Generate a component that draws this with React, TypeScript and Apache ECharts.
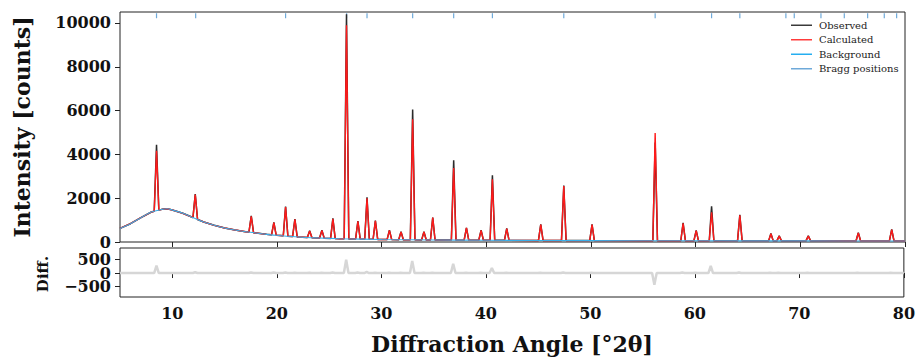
import { useEffect, useRef } from "react";
import * as echarts from "echarts";

// ---------- data ----------
const xTicks = [10, 20, 30, 40, 50, 60, 70, 80];
const yTicks = [0, 2000, 4000, 6000, 8000, 10000];
const diffTicks = [-500, 0, 500];

// background curve knots (°2θ, counts)
const bgTheta = [5, 6, 7, 8, 9, 9.5, 10, 11, 12, 13, 14, 15, 16, 17, 18, 19, 20, 22, 24, 26, 30, 35, 40, 50, 60, 70, 80];
const bgCounts = [620, 835, 1110, 1370, 1490, 1520, 1460, 1310, 1110, 913, 762, 640, 548, 470, 411, 350, 306, 228, 183, 150, 114, 91, 78, 64, 55, 50, 46];

// reflections: position (°2θ), calculated apex and observed apex (counts)
const peakTheta = [8.49, 12.19, 17.54, 19.7, 20.82, 21.71, 23.12, 24.29, 25.34, 26.64, 27.73, 28.6, 29.4, 30.74, 31.85, 32.96, 34.04, 34.88, 36.88, 38.1, 39.5, 40.58, 41.95, 45.2, 47.4, 50.1, 56.13, 58.8, 60.05, 61.52, 64.22, 67.19, 67.98, 70.76, 75.54, 78.73];
const peakCalc = [4160, 2160, 1170, 880, 1600, 1040, 500, 530, 1060, 9900, 940, 2000, 970, 530, 460, 5600, 460, 1110, 3380, 640, 530, 2860, 610, 790, 2560, 790, 4980, 850, 520, 1360, 1220, 380, 270, 270, 410, 570];
const peakObs = [4440, 2190, 1190, 900, 1620, 1050, 510, 540, 1080, 10400, 960, 2040, 980, 540, 470, 6050, 470, 1120, 3730, 650, 540, 3050, 620, 800, 2580, 800, 4540, 870, 530, 1630, 1240, 390, 280, 280, 420, 580];

// Bragg reflection positions (°2θ)
const braggTheta = [8.49, 12.23, 20.82, 26.65, 28.6, 32.96, 36.88, 40.58, 47.4, 56.13, 61.52, 64.22, 68.62, 69.42, 71.97, 74.2, 76.43, 78.02, 79.2];

// ---------- presentation constants ----------
const X_MIN = 5;
const X_MAX = 80;
const Y_MAX = 10500;
const D_MIN = -900;
const D_MAX = 940;
const HW = 0.22; // half width of a drawn reflection
const BRAGG_Y = 10330;
const FONT = "DejaVu Serif";

function bgAt(t: number): number {
  for (let i = 0; i < bgTheta.length - 1; i++) {
    if (t >= bgTheta[i] && t <= bgTheta[i + 1]) {
      const f = (t - bgTheta[i]) / (bgTheta[i + 1] - bgTheta[i]);
      return bgCounts[i] + f * (bgCounts[i + 1] - bgCounts[i]);
    }
  }
  return bgCounts[bgCounts.length - 1];
}

function profile(apex: number[]): [number, number][] {
  const pts: [number, number][] = [];
  bgTheta.forEach((t, i) => {
    if (!peakTheta.some((p) => Math.abs(p - t) <= HW)) pts.push([t, bgCounts[i]]);
  });
  peakTheta.forEach((p, i) => {
    pts.push([p - HW, bgAt(p - HW)], [p, apex[i]], [p + HW, bgAt(p + HW)]);
  });
  pts.sort((a, b) => a[0] - b[0]);
  return pts;
}

function diffProfile(): [number, number][] {
  const pts: [number, number][] = [[X_MIN, 0]];
  peakTheta.forEach((p, i) => {
    pts.push([p - HW, 0], [p, peakObs[i] - peakCalc[i]], [p + HW, 0]);
  });
  pts.push([X_MAX, 0]);
  return pts;
}

export default function App() {
  const ref = useRef<HTMLDivElement>(null);

  useEffect(() => {
    document.body.style.margin = "0";
    if (!ref.current) return;
    const chart = echarts.init(ref.current, undefined, { renderer: "svg" });

    const tickLabel = {
      fontFamily: FONT,
      fontSize: 16,
      fontWeight: "bold" as const,
      color: "#111",
      showMinLabel: true,
      showMaxLabel: true,
      hideOverlap: false,
    };
    const lineCol = "#222";
    const plain = (v: number) => (v < 0 ? "\u2212" + String(-v) : String(v));
    // the diff axis ends carry hidden placeholder ticks so the three real labels all stay visible
    const diffAll = [D_MIN, ...diffTicks, D_MAX];

    chart.setOption({
      animation: false,
      grid: [
        { left: 120, top: 12, width: 785, height: 230, show: true, borderColor: lineCol, borderWidth: 1, backgroundColor: "transparent" },
        { left: 120, top: 248, width: 785, height: 49, show: true, borderColor: lineCol, borderWidth: 1, backgroundColor: "transparent" },
      ],
      xAxis: [
        {
          type: "value", gridIndex: 0, min: X_MIN, max: X_MAX,
          axisLine: { show: false },
          axisTick: { show: true, length: 5, customValues: xTicks, lineStyle: { color: lineCol } },
          axisLabel: { show: false },
          splitLine: { show: false },
        },
        {
          type: "value", gridIndex: 1, min: X_MIN, max: X_MAX,
          axisLine: { show: false },
          axisTick: { show: true, length: 5, customValues: xTicks, lineStyle: { color: lineCol } },
          axisLabel: { ...tickLabel, margin: 8, customValues: xTicks, formatter: plain },
          splitLine: { show: false },
        },
      ],
      yAxis: [
        {
          type: "value", gridIndex: 0, min: 0, max: Y_MAX,
          axisLine: { show: false },
          axisTick: { show: true, length: 5, customValues: yTicks, lineStyle: { color: lineCol } },
          axisLabel: { ...tickLabel, margin: 9, customValues: yTicks, formatter: plain },
          splitLine: { show: false },
        },
        {
          type: "value", gridIndex: 1, min: D_MIN, max: D_MAX,
          axisLine: { show: false },
          axisTick: { show: true, length: 5, customValues: diffAll, lineStyle: { color: lineCol } },
          axisLabel: {
            ...tickLabel, showMinLabel: false, showMaxLabel: false,
            margin: 9, customValues: diffAll, formatter: plain, lineHeight: 12,
          },
          splitLine: { show: false },
        },
      ],
      legend: {
        data: ["Observed", "Calculated", "Background", "Bragg positions"],
        orient: "vertical",
        left: 791,
        top: 18,
        padding: 0,
        itemGap: 0,
        itemWidth: 21,
        itemHeight: 1.5,
        icon: "rect",
        selectedMode: false,
        textStyle: { fontFamily: FONT, fontSize: 10, color: "#222", lineHeight: 14.5, padding: [0, 0, 0, 2] },
      },
      series: [
        {
          name: "Observed", type: "line", xAxisIndex: 0, yAxisIndex: 0,
          data: profile(peakObs), showSymbol: false, clip: true,
          lineStyle: { color: "#2a2a2a", width: 1.5 }, itemStyle: { color: "#3a3a3a" },
        },
        {
          name: "Calculated", type: "line", xAxisIndex: 0, yAxisIndex: 0,
          data: profile(peakCalc), showSymbol: false, clip: true,
          lineStyle: { color: "#ff1a1a", width: 1.4 }, itemStyle: { color: "#ff3b3b" },
        },
        {
          name: "Background", type: "line", xAxisIndex: 0, yAxisIndex: 0,
          data: bgTheta.map((t, i) => [t, bgCounts[i]]), showSymbol: false, smooth: 0.3,
          lineStyle: { color: "#3aaee8", width: 1.1 }, itemStyle: { color: "#25aef0" },
        },
        {
          name: "Bragg positions", type: "scatter", xAxisIndex: 0, yAxisIndex: 0,
          data: braggTheta.map((t) => [t, BRAGG_Y]), symbol: "rect", symbolSize: [1.2, 5],
          itemStyle: { color: "#4a93cf" },
        },
        {
          name: "Diff", type: "line", xAxisIndex: 1, yAxisIndex: 1,
          data: diffProfile(), showSymbol: false,
          lineStyle: { color: "#d6d6d6", width: 2.5 }, itemStyle: { color: "#d6d6d6" },
        },
      ],
      graphic: [
        {
          type: "text", x: 512, y: 344,
          style: { text: "Diffraction Angle [°2θ]", font: `bold 22px "${FONT}"`, fill: "#111", align: "center", verticalAlign: "middle", textAlign: "center", textVerticalAlign: "middle" },
        },
        {
          type: "text", x: 22, y: 127, rotation: Math.PI / 2,
          style: { text: "Intensity [counts]", font: `bold 22px "${FONT}"`, fill: "#111", align: "center", verticalAlign: "middle", textAlign: "center", textVerticalAlign: "middle" },
        },
        {
          type: "text", x: 43, y: 274, rotation: Math.PI / 2,
          style: { text: "Diff.", font: `bold 15px "${FONT}"`, fill: "#111", align: "center", verticalAlign: "middle", textAlign: "center", textVerticalAlign: "middle" },
        },
      ],
    });

    return () => chart.dispose();
  }, []);

  return <div ref={ref} style={{ width: 918, height: 357 }} />;
}
